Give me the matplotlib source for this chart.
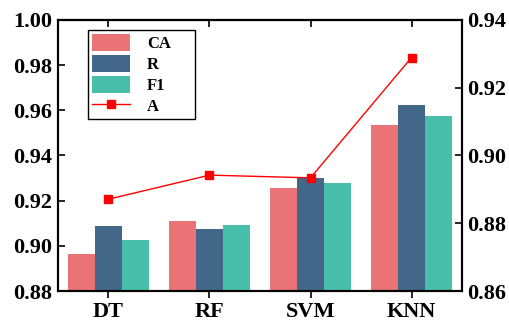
import numpy as np
import matplotlib
matplotlib.use("Agg")
import matplotlib.pyplot as plt

plt.rcParams['font.family'] = ['Liberation Serif', 'DejaVu Serif']
plt.rcParams['font.weight'] = 'bold'

models = ['DT', 'RF', 'SVM', 'KNN']
ca = [0.8964, 0.9111, 0.9254, 0.9533]
r = [0.9089, 0.9073, 0.9301, 0.9622]
f1 = [0.9026, 0.9092, 0.9277, 0.9574]
acc = [0.8871, 0.8942, 0.8934, 0.9289]

fig = plt.figure(figsize=(5.1, 3.25), dpi=100)
ax = fig.add_axes([0.1137, 0.1046, 0.7922, 0.834])
ax2 = ax.twinx()

x = np.arange(len(models))
w = 0.27
b1 = ax.bar(x - w, ca, w, color='#E97377', label='CA')
b2 = ax.bar(x, r, w, color='#436789', label='R')
b3 = ax.bar(x + w, f1, w, color='#48BFAA', label='F1')
l1, = ax2.plot(x, acc, color='red', marker='s', markersize=6, linewidth=1, label='A')

ax.set_xlim(-0.5, 3.5)
ax.set_ylim(0.88, 1.00)
ax.set_yticks(np.arange(0.88, 1.001, 0.02))
ax2.set_ylim(0.86, 0.94)
ax2.set_yticks(np.arange(0.86, 0.941, 0.02))
ax.set_xticks(x)
ax.set_xticklabels(models)
ax.yaxis.set_major_formatter(plt.FormatStrFormatter('%.2f'))
ax2.yaxis.set_major_formatter(plt.FormatStrFormatter('%.2f'))

ax.tick_params(axis='x', direction='out', length=5, width=1.2, labelsize=16, pad=3)
ax.tick_params(axis='y', direction='in', length=5, width=1.2, labelsize=16, pad=4)
ax2.tick_params(axis='y', direction='in', length=5, width=1.2, labelsize=16, pad=4)
for a in (ax, ax2):
    for s in a.spines.values():
        s.set_linewidth(1.5)

# inward ticks on the top spine
top = ax.secondary_xaxis('top')
top.set_xticks(x)
top.tick_params(direction='in', length=5, width=1.2, labeltop=False)
top.spines['top'].set_linewidth(1.5)

leg = ax.legend([b1, b2, b3, l1], ['CA', 'R', 'F1', 'A'],
                loc='upper left', bbox_to_anchor=(0.074, 0.0, 0.265, 0.962),
                mode='expand', borderaxespad=0,
                fancybox=False, edgecolor='black', framealpha=1,
                prop={'weight': 'bold', 'size': 12},
                handlelength=2.3, handleheight=1.15, labelspacing=0.18,
                handletextpad=1.0, borderpad=0.25)
leg.get_frame().set_linewidth(1.0)

fig.savefig('out.png', dpi=100)
